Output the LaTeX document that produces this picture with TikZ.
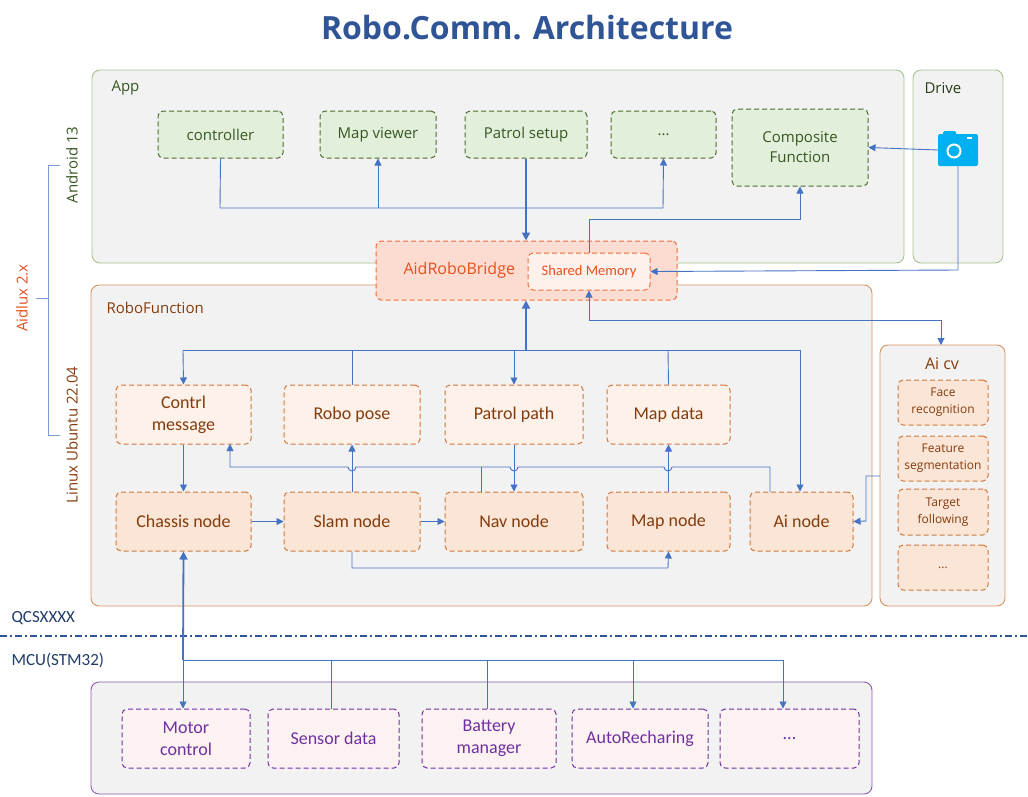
\documentclass[tikz,border=0pt]{standalone}
\usepackage{fontspec}
\setmainfont{Open Sans}
\newfontfamily\calfnt{Carlito}
\usetikzlibrary{arrows.meta}
\definecolor{ln}{HTML}{4472C4}
\definecolor{pan}{HTML}{F2F2F2}
\definecolor{gb}{HTML}{E2EFDA}
\definecolor{gd}{HTML}{4E6B30}
\definecolor{gt}{HTML}{385723}
\definecolor{gp}{HTML}{A9C08F}
\definecolor{ob}{HTML}{FBE5D6}
\definecolor{obl}{HTML}{FDF1E9}
\definecolor{od}{HTML}{D0773A}
\definecolor{ot}{HTML}{843C0C}
\definecolor{rb}{HTML}{FCDCD0}
\definecolor{rd}{HTML}{F26B3A}
\definecolor{rt}{HTML}{E8501E}
\definecolor{pb}{HTML}{FDF2F2}
\definecolor{pd}{HTML}{7030A0}
\definecolor{cam}{HTML}{00B0F0}
\definecolor{tt}{HTML}{2F5597}
\begin{document}
\begin{tikzpicture}[x=1pt,y=-1pt,
  panel/.style={draw, fill=pan, rounded corners=8pt, line width=0.9pt},
  box/.style={draw, dashed, rounded corners=5pt, line width=1pt, align=center, dash pattern=on 5pt off 3pt},
  gbox/.style={box, fill=gb, draw=gd, text=gt, font=\fontsize{15}{20}\selectfont},
  obox/.style={box, fill=ob, draw=od, text=ot, font=\calfnt\fontsize{18}{22}\selectfont},
  lbox/.style={box, fill=obl, draw=od, text=ot, font=\calfnt\fontsize{18}{22}\selectfont},
  pbox/.style={box, fill=pb, draw=pd, text=pd, font=\calfnt\fontsize{18}{22}\selectfont},
  cbox/.style={box, fill=ob, draw=od, text=ot, font=\fontsize{12}{17}\selectfont},
  w/.style={draw=ln, line width=0.9pt},
  a/.style={w, -{Triangle[length=7pt,width=7pt]}},
  ta/.style={draw=ln, line width=1.8pt, -{Triangle[length=8pt,width=8pt]}},
  lab/.style={font=\fontsize{15}{17}\selectfont}]
\useasboundingbox (0,0) rectangle (1028,796);
\node[font=\bfseries\fontsize{32}{36}\selectfont, text=tt] (title) at (527,28) {Robo.Comm. Architecture};
% panels
\draw[panel, draw=gp] (92,70) rectangle (904,263);
\draw[panel, draw=gp] (913,70) rectangle (1003,263);
\draw[panel, draw=od!80] (91,285) rectangle (872,606);
\draw[panel, draw=od!80] (880,345) rectangle (1005,606);
\draw[panel, draw=pd!80] (91,682) rectangle (872,794);
\node[lab, text=gt, anchor=west] (app) at (108,88) {App};
\node[lab, text=gt!70!black, anchor=west] (drive) at (921,88) {Drive};
\node[lab, text=ot, anchor=west] (rf) at (103,308) {RoboFunction};
\node[font=\fontsize{16}{18}\selectfont, text=ot] (aicvl) at (942,364) {Ai cv};
% app boxes
\node[gbox, minimum width=125pt, minimum height=47pt] (ctrl) at (220.5,134.5) {controller};
\node[gbox, minimum width=116pt, minimum height=47pt] (mapv) at (378,134.5) {Map viewer};
\node[gbox, minimum width=122pt, minimum height=47pt] (pset) at (526,134.5) {Patrol setup};
\node[gbox, minimum width=105pt, minimum height=47pt] (adots) at (663.5,134.5) {...};
\node[gbox, minimum width=136pt, minimum height=77pt] (comp) at (800,147.5) {Composite\\Function};
% camera
\node[fill=cam, rounded corners=2pt, minimum width=40pt, minimum height=32pt, inner sep=0pt] (cam) at (958,150) {};
\fill[cam, rounded corners=1.5pt] (943,131) rectangle (956,137);
\draw[white, line width=2pt] (954,151) circle (6.5);
\fill[white] (967,137) rectangle (972,139);
% bridge
\node[box, fill=rb, draw=rd, minimum width=301pt, minimum height=59pt] (bridge) at (526.5,270.5) {};
\node[text=rt, font=\fontsize{16}{18}\selectfont, anchor=west] (brl) at (400,270) {AidRoboBridge};
\node[box, fill=white!60!rb, draw=rd, text=rt, minimum width=122pt, minimum height=37pt, font=\calfnt\fontsize{14.5}{16}\selectfont] (shm) at (589,271.5) {Shared Memory};
% robo boxes
\node[lbox, minimum width=135pt, minimum height=59pt] (cmsg) at (183.5,414.5) {Contrl\\message};
\node[lbox, minimum width=136pt, minimum height=59pt] (rpose) at (352,414.5) {Robo pose};
\node[lbox, minimum width=138pt, minimum height=59pt] (ppath) at (514,414.5) {Patrol path};
\node[lbox, minimum width=123pt, minimum height=59pt] (mdata) at (668.5,414.5) {Map data};
\node[obox, minimum width=135pt, minimum height=59pt] (chas) at (183.5,521.5) {Chassis node};
\node[obox, minimum width=136pt, minimum height=59pt] (slam) at (352,521.5) {Slam node};
\node[obox, minimum width=138pt, minimum height=59pt] (nav) at (514,521.5) {Nav node};
\node[obox, minimum width=123pt, minimum height=59pt] (mnode) at (668.5,521.5) {Map node};
\node[obox, minimum width=103pt, minimum height=59pt] (ainode) at (801.5,521.5) {Ai node};
% ai cv
\node[cbox, minimum width=90pt, minimum height=45pt, inner sep=1pt] (face) at (943,402.5) {Face\\recognition};
\node[cbox, minimum width=90pt, minimum height=45pt, inner sep=0pt] (feat) at (943,458.5) {Feature\\segmentation};
\node[cbox, minimum width=90pt, minimum height=46pt, inner sep=1pt] (targ) at (943,512) {Target\\following};
\node[cbox, minimum width=90pt, minimum height=45pt] (cdots) at (943,567.5) {...};
% mcu boxes
\node[pbox, minimum width=128pt, minimum height=59pt] (motor) at (186,738.5) {Motor\\control};
\node[pbox, minimum width=131pt, minimum height=59pt] (sens) at (333.5,738.5) {Sensor data};
\node[pbox, minimum width=134pt, minimum height=59pt] (batt) at (489,738.5) {Battery\\manager};
\node[pbox, minimum width=136pt, minimum height=59pt] (auto) at (640,738.5) {AutoRecharing};
\node[pbox, minimum width=139pt, minimum height=59pt] (mdots) at (789.5,738.5) {...};
% side labels
\node[text=rt, rotate=90, font=\fontsize{15}{17}\selectfont] (aidlux) at (22,298) {Aidlux 2.x};
\node[text=gt, rotate=90, font=\fontsize{15}{17}\selectfont] (andr) at (72,165) {Android 13};
\node[text=ot, rotate=90, font=\fontsize{15}{17}\selectfont] (linux) at (72,435) {Linux Ubuntu 22.04};
\coordinate (b1) at (60,165); \coordinate (b2) at (60,435);
\draw[ln!70, line width=0.9pt] (b1) -- (48,165) -- (48,435) -- (b2) (48,298) -- (36,298);
\node[font=\calfnt\fontsize{17}{18}\selectfont, text=tt!70!black, anchor=west] (qcs) at (8,618) {QCSXXXX};
\node[font=\calfnt\fontsize{17}{18}\selectfont, text=tt!70!black, anchor=west] (mcu) at (8,660) {MCU(STM32)};
\coordinate (dl) at (0,636); \coordinate (dr) at (1028,636);
\draw[tt, line width=1.8pt, dash pattern=on 7pt off 3pt on 2pt off 3pt] (dl) -- (dr);
% app connectors
\draw[w] (ctrl.south) -- (220,208) -- (663,208);
\draw[a] (378,208) -- (mapv.south);
\draw[a] (663,208) -- (adots.south);
\draw[ta] (pset.south) -- (bridge.north -| pset.south);
\draw[a] (shm.north) -- (589,219) -- (800,219) -- (comp.south);
\draw[a] (cam.west) -- (comp.east);
\draw[a] (cam.south) -- (958,270) -- (shm.east);
% robo bus
\draw[ta] (526,350) -- (bridge.south -| 526,0);
\draw[w] (183,350) -- (800,350);
\draw[a] (183,350) -- (cmsg.north);
\draw[a] (514,350) -- (ppath.north);
\draw[a] (800,350) -- (ainode.north -| 800,0);
\draw[w] (rpose.north) -- (352,350);
\draw[w] (mdata.north) -- (668,350);
\draw[a] (589,320) -- (shm.south);
\draw[a] (589,320) -- (941,320) -- (941,345);
% row connections
\draw[a] (cmsg.south) -- (chas.north);
\draw[a] (chas.east) -- (slam.west);
\draw[a] (slam.east) -- (nav.west);
\draw[a] (slam.north) -- (rpose.south);
\draw[a] (ppath.south) -- (nav.north);
\draw[a] (mnode.north) -- (mdata.south);
\draw[a] (770,492) -- (770,467) -- (672,467) arc(0:180:4) -- (518,467) arc(0:180:4) -- (356,467) arc(0:180:4) -- (230,467) -- (230,444);
\draw[w] (481,492) -- (481,467);
\draw[a] (slam.south) -- (352,568) -- (668,568) -- (mnode.south);
\draw[a] (880,476) -- (866,476) -- (866,521) -- (ainode.east);
% mcu
\draw[ta] (183,660) -- (chas.south);
\draw[w] (183,660) -- (783,660);
\draw[a] (183,660) -- (motor.north -| 183,0);
\draw[w] (sens.north -| 331,0) -- (331,660);
\draw[w] (batt.north -| 487,0) -- (487,660);
\draw[a] (633,660) -- (auto.north -| 633,0);
\draw[a] (783,660) -- (mdots.north -| 783,0);
\end{tikzpicture}
\end{document}
